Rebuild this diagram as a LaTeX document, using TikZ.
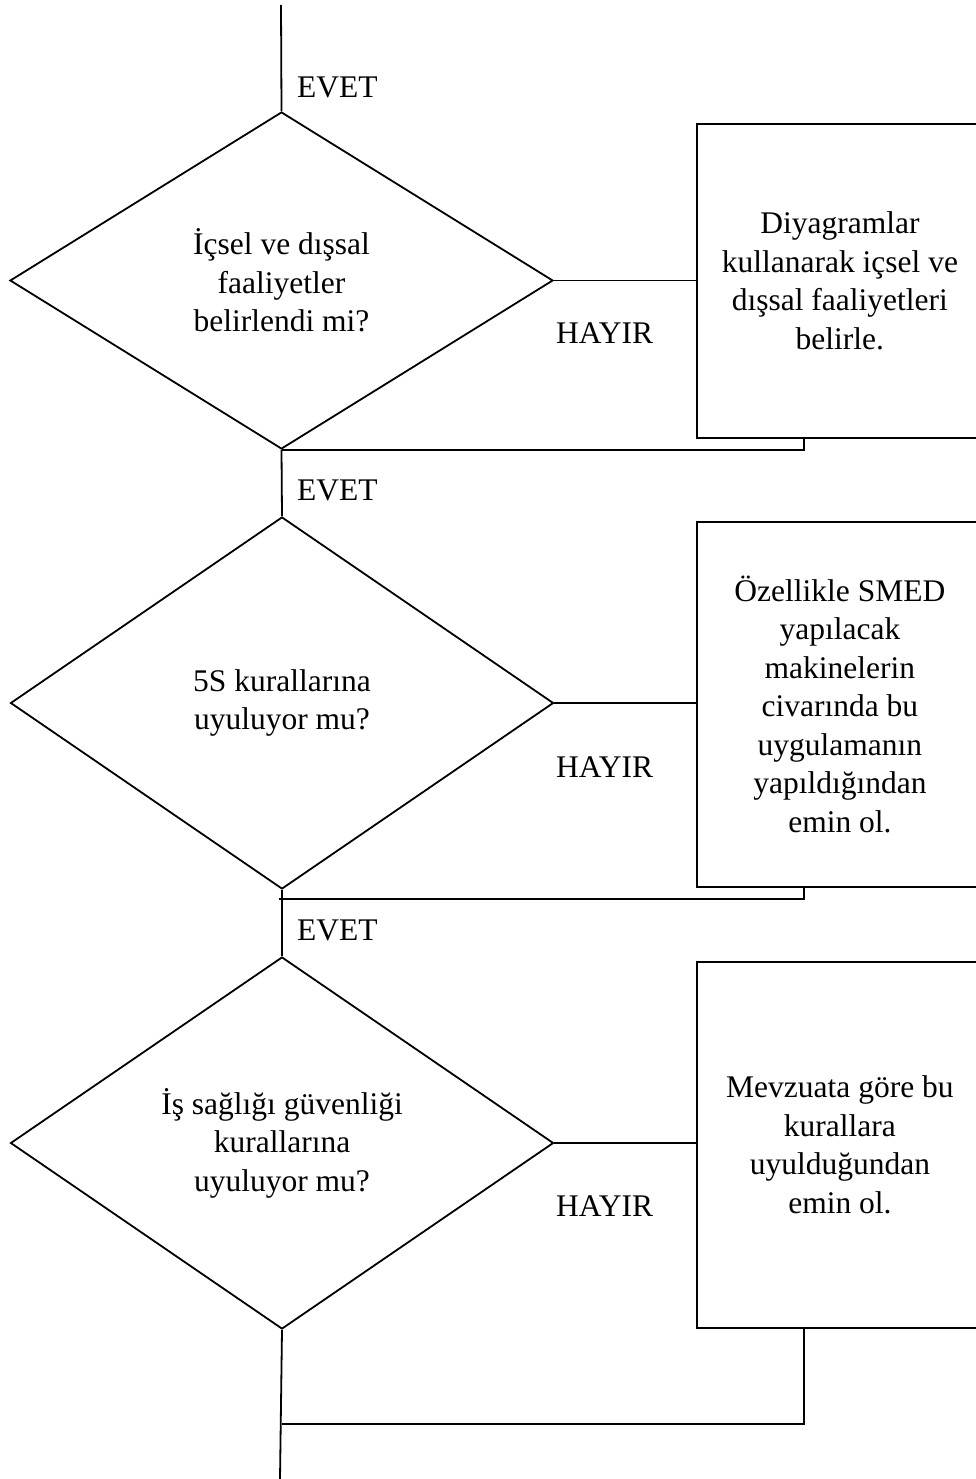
\documentclass[tikz,border=0pt]{standalone}
\usepackage{fontspec}
\setmainfont{Liberation Serif}
\usetikzlibrary{shapes.geometric}
\newcommand{\flowfont}{\fontsize{31.5}{38.5}\selectfont}
\begin{document}
\begin{tikzpicture}[x=1pt,y=-1pt,
  line/.style={line width=1.8pt},
  decision/.style={draw, line width=1.8pt, diamond, inner sep=0pt,
    shape aspect=1.46, font=\flowfont, align=center, minimum width=543pt},
  action/.style={draw, line width=1.8pt, rectangle, anchor=north west,
    minimum width=286pt, inner sep=0pt, align=center, font=\flowfont},
  tag/.style={anchor=west, inner sep=0pt, font=\flowfont}]
\useasboundingbox (0,0) rectangle (976,1479);
\clip (0,0) rectangle (976,1479);

% decisions
\node[decision, minimum height=337pt] (d1) at (281.5,280.5)
  {İçsel ve dışsal\\faaliyetler\\belirlendi mi?};
\node[decision, minimum height=372pt] (d2) at (282,703)
  {5S kurallarına\\uyuluyor mu?};
\node[decision, minimum height=372pt] (d3) at (282,1143)
  {İş sağlığı güvenliği\\kurallarına\\uyuluyor mu?};

% corrective actions
\node[action, minimum height=314pt] (b1) at (696,123)
  {Diyagramlar\\kullanarak içsel ve\\dışsal faaliyetleri\\belirle.};
\node[action, minimum height=365pt] (b2) at (696,521)
  {Özellikle SMED\\yapılacak\\makinelerin\\civarında bu\\uygulamanın\\yapıldığından\\emin ol.};
\node[action, minimum height=366pt] (b3) at (696,961)
  {Mevzuata göre bu\\kurallara\\uyulduğundan\\emin ol.};

% labels
\node[tag] (e1) at (297,87) {EVET};
\node[tag] (e2) at (297,490) {EVET};
\node[tag] (e3) at (297,930) {EVET};
\node[tag] (h1) at (556,333) {HAYIR};
\node[tag] (h2) at (556,767) {HAYIR};
\node[tag] (h3) at (556,1206) {HAYIR};

% free ends and return points
\coordinate (start) at (281,5);
\coordinate (finish) at (280,1479);
\coordinate (r1) at (804,437);
\coordinate (r2) at (804,886);
\coordinate (r3) at (804,1327);
\coordinate (j2) at (279,899);
\coordinate (k2) at (440,899);
\coordinate (j3) at (282,1424);

% main flow
\draw[line] (start) -- (d1.north);
\draw[line] (d1.south) -- (d2.north);
\draw[line] (d2.south) -- (d3.north);
\draw[line] (d3.south) -- (finish);

% NO branches
\draw[line] (d1.east) -- (d1.east -| b1.west);
\draw[line] (d2.east) -- (d2.east -| b2.west);
\draw[line] (d3.east) -- (d3.east -| b3.west);

% returns
\draw[line] (r1) |- (d1.south);
\draw[line] (r2) |- (j2);
\draw[line width=2.8pt] (j2) -- (k2);
\draw[line] (r3) |- (j3);
\end{tikzpicture}
\end{document}
